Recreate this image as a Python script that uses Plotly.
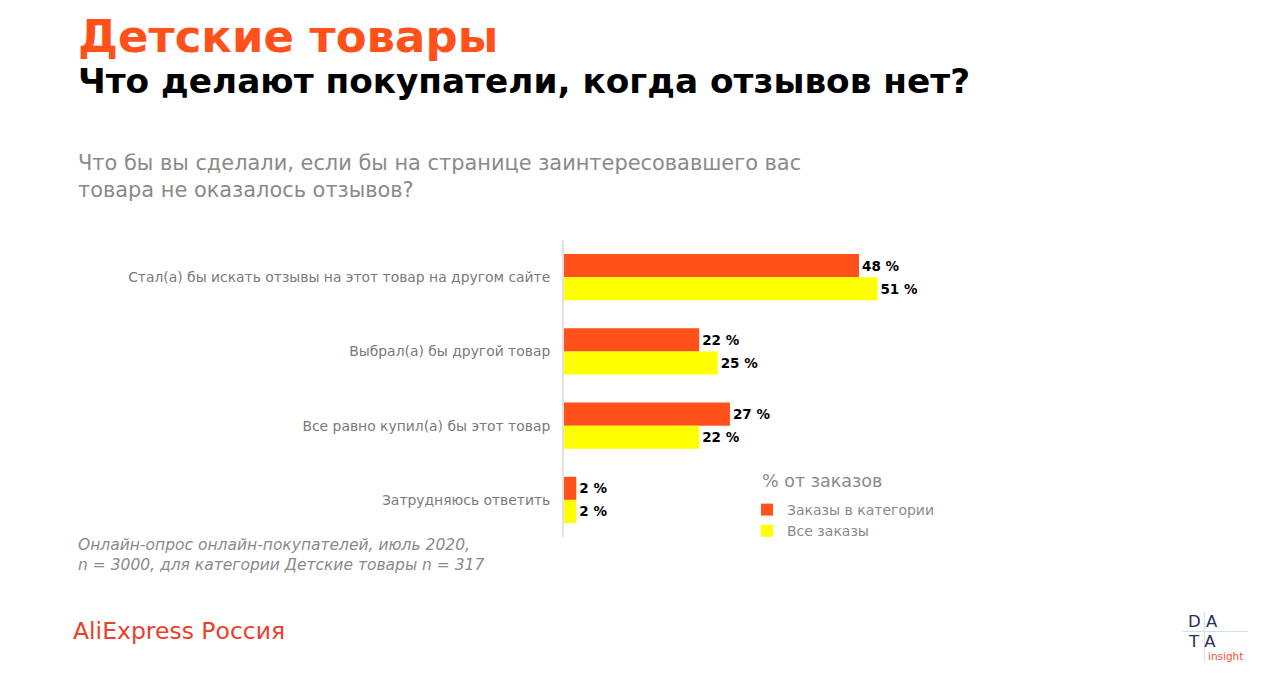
import plotly.graph_objects as go

W, H = 1277, 683

categories = [
    "Стал(а) бы искать отзывы на этот товар на другом сайте",
    "Выбрал(а) бы другой товар",
    "Все равно купил(а) бы этот товар",
    "Затрудняюсь ответить",
]
series_names = ["Заказы в категории", "Все заказы"]
category_orders = [48, 22, 27, 2]
all_orders = [51, 25, 22, 2]
colors = ["#FF5119", "#FFFF00"]

FONT = "DejaVu Sans"
GRAY = "#8a8a8a"


def px(x):
    return x / W


def py(y):
    return 1 - y / H


fig = go.Figure()
for name, vals, col in zip(series_names, [category_orders, all_orders], colors):
    fig.add_trace(go.Bar(
        y=categories, x=vals, name=name, orientation="h",
        marker=dict(color=col, line=dict(width=0)),
        text=[f"{v} %" for v in vals], textposition="outside",
        textfont=dict(family=FONT, size=13.5, color="#000000", weight="bold"),
        cliponaxis=False,
    ))

x0 = 564
scale = 6.146
fig.update_layout(
    width=W, height=H,
    margin=dict(l=0, r=0, t=0, b=0),
    paper_bgcolor="white", plot_bgcolor="white",
    barmode="group", bargap=0.378, bargroupgap=0,
    xaxis=dict(domain=[px(x0), px(x0 + 100 * scale)], range=[0, 100],
               showgrid=False, zeroline=False, showticklabels=False, ticks=""),
    yaxis=dict(domain=[py(537), py(240)], autorange="reversed",
               showgrid=False, zeroline=False, showline=True,
               linecolor="#e3e3e3", linewidth=2, ticks="", ticklabelstandoff=9,
               tickfont=dict(family=FONT, size=13.9, color="#7a7a7a")),
    showlegend=True,
    legend=dict(
        x=px(747), y=py(494), xanchor="left", yanchor="top",
        traceorder="normal", bgcolor="rgba(0,0,0,0)",
        font=dict(family=FONT, size=14, color=GRAY),
        itemclick=False, tracegroupgap=0,
    ),
    font=dict(family=FONT),
)

ann = [
    dict(text="% от заказов", x=px(760), y=py(481), font=dict(size=17.5, color=GRAY)),
    dict(text="Детские товары", x=px(76), y=py(36), font=dict(size=45, color="#FF5119", weight="bold")),
    dict(text="Что делают покупатели, когда отзывов нет?", x=px(76), y=py(81), font=dict(size=34.3, color="#000000", weight="bold")),
    dict(text="Что бы вы сделали, если бы на странице заинтересовавшего вас<br>товара не оказалось отзывов?",
         x=px(76), y=py(176), font=dict(size=20.9, color=GRAY), align="left"),
    dict(text="<i>Онлайн-опрос онлайн-покупателей, июль 2020,<br>n = 3000, для категории Детские товары n = 317</i>",
         x=px(76), y=py(555), font=dict(size=15.5, color=GRAY), align="left"),
    dict(text="AliExpress Россия", x=px(71), y=py(631), font=dict(size=23.5, color="#E8412C")),
    dict(text="D A", x=px(1186), y=py(621), font=dict(size=16.5, color="#2b2d5a")),
    dict(text="T A", x=px(1186), y=py(641), font=dict(size=16.5, color="#2b2d5a")),
    dict(text="insight", x=px(1206), y=py(656), font=dict(size=10.5, color="#F04E37")),
]
for a in ann:
    f = a.pop("font")
    f.setdefault("family", FONT)
    fig.add_annotation(xref="paper", yref="paper", xanchor="left", yanchor="middle",
                       showarrow=False, font=f, **a)

fig.add_shape(type="line", xref="paper", yref="paper", x0=px(1183), x1=px(1248), y0=py(631.5), y1=py(631.5),
              line=dict(color="#cfe3ee", width=1))
fig.add_shape(type="line", xref="paper", yref="paper", x0=px(1204.5), x1=px(1204.5), y0=py(612), y1=py(662),
              line=dict(color="#cfe3ee", width=1))

fig.write_html("out.html")
